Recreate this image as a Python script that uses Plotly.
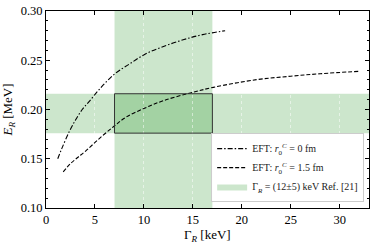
import plotly.graph_objects as go

# Data
gamma_r0 = [1.2, 1.6, 2.4, 3.0, 3.7, 4.4, 5.5, 7.0, 8.5, 10.2, 12.0, 14.1, 16.0, 18.3]
energy_r0 = [0.150, 0.160, 0.178, 0.189, 0.200, 0.208, 0.221, 0.236, 0.246, 0.2566, 0.264, 0.271, 0.276, 0.280]

gamma_r15 = [1.76, 2.5, 3.2, 4.07, 5.5, 6.95, 8.14, 10.0, 12.0, 14.75, 17.1, 21.5, 25.0, 28.0, 31.9]
energy_r15 = [0.1367, 0.145, 0.151, 0.158, 0.171, 0.183, 0.192, 0.201, 0.209, 0.2168, 0.2225, 0.2303, 0.2338, 0.2363, 0.2387]

gamma_band = [7.0, 17.0]       # Gamma_R = (12 +- 5) keV
energy_band = [0.176, 0.216]   # E_R band

labels = [
    "EFT: <i>r</i><sub>0</sub><sup><i>C</i></sup> = 0 fm",
    "EFT: <i>r</i><sub>0</sub><sup><i>C</i></sup> = 1.5 fm",
    "Γ<sub><i>R</i></sub> = (12±5) keV Ref. [21]",
]
x_ticks = [0, 5, 10, 15, 20, 25, 30]
y_ticks = [0.10, 0.15, 0.20, 0.25, 0.30]

FONT = "Liberation Serif"
GREEN = "rgba(0,128,0,0.2)"

fig = go.Figure()

fig.add_trace(go.Scatter(
    x=gamma_r0, y=energy_r0, mode="lines", name=labels[0],
    line=dict(color="black", width=1.1, dash="5px,2px,1.5px,2px", shape="spline"),
))
fig.add_trace(go.Scatter(
    x=gamma_r15, y=energy_r15, mode="lines", name=labels[1],
    line=dict(color="black", width=1.1, dash="4px,2px", shape="spline"),
))
# legend-only patch for the band
fig.add_trace(go.Scatter(
    x=[None], y=[None], mode="lines", name=labels[2], fill="toself",
    fillcolor=GREEN, line=dict(width=0, color=GREEN),
))

# vertical band (Gamma range)
fig.add_shape(type="rect", xref="x", yref="paper", x0=gamma_band[0], x1=gamma_band[1],
              y0=0, y1=1, fillcolor=GREEN, line_width=0, layer="below")
# horizontal band (energy range)
fig.add_shape(type="rect", xref="paper", yref="y", x0=0, x1=1,
              y0=energy_band[0], y1=energy_band[1], fillcolor=GREEN, line_width=0, layer="below")
# outlined overlap rectangle
fig.add_shape(type="rect", xref="x", yref="y", x0=gamma_band[0], x1=gamma_band[1],
              y0=energy_band[0], y1=energy_band[1], fillcolor="rgba(0,0,0,0)",
              line=dict(color="#333333", width=1), layer="above")

axis_common = dict(
    showline=True, linecolor="black", linewidth=1, mirror="allticks",
    ticks="inside", ticklen=4, tickwidth=0.8, tickcolor="black",
    tickfont=dict(family=FONT, size=12.5, color="black"),
    zeroline=False,
)

fig.update_xaxes(
    range=[0, 33], tickvals=x_ticks, ticktext=[str(v) for v in x_ticks],
    showgrid=True, gridcolor="rgba(255,255,255,0.5)", griddash="dot", gridwidth=0.7,
    **axis_common,
)
fig.update_yaxes(
    range=[0.10, 0.30], tickvals=y_ticks, ticktext=[f"{v:.2f}" for v in y_ticks],
    showgrid=False,
    minor=dict(dtick=0.01, ticks="inside", ticklen=2, tickwidth=0.6, tickcolor="black", showgrid=False),
    title=dict(text="<i>E</i><sub><i>R</i></sub> [MeV]", font=dict(family=FONT, size=13, color="black"), standoff=8),
    **axis_common,
)

# x-axis title placed as annotation for exact vertical position
fig.add_annotation(
    text="Γ<sub><i>R</i></sub> [keV]", xref="paper", yref="paper",
    x=0.5, y=-0.085, xanchor="center", yanchor="top", showarrow=False,
    font=dict(family=FONT, size=13, color="black"),
)

fig.update_layout(
    width=374, height=243,
    margin=dict(l=45, r=4, t=9, b=35),
    paper_bgcolor="white", plot_bgcolor="white",
    font=dict(family=FONT, color="black"),
    showlegend=True,
    legend=dict(
        x=0.985, y=0.03, xanchor="right", yanchor="bottom",
        bgcolor="rgba(255,255,255,0.9)", bordercolor="#cccccc", borderwidth=1,
        font=dict(family=FONT, size=10, color="#222222"),
        tracegroupgap=0, itemwidth=30,
    ),
)

# remove the browser's default 8px body margin so the figure fills the window
fig.write_html(
    "out.html",
    config={"displayModeBar": False},
    post_script="document.body.style.margin='0';document.body.style.overflow='hidden';",
)
